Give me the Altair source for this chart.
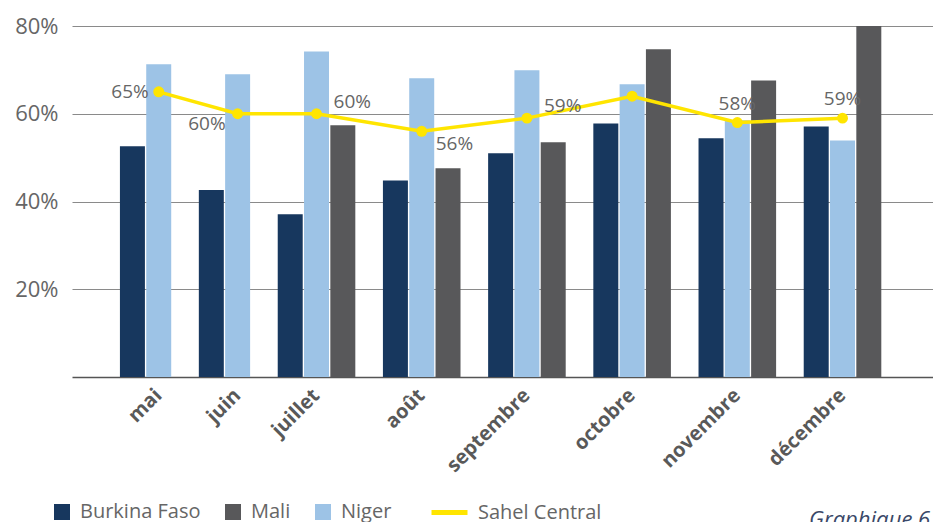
import altair as alt
import pandas as pd

# Monthly shares per country (fractions); None = no data that month
months = ["mai", "juin", "juillet", "août", "septembre", "octobre", "novembre", "décembre"]
burkina = [0.526, 0.426, 0.371, 0.448, 0.510, 0.578, 0.544, 0.571]
niger = [0.713, 0.690, 0.742, 0.681, 0.699, 0.667, 0.585, 0.539]
mali = [None, None, 0.574, 0.476, 0.535, 0.747, 0.676, 0.800]
sahel = [0.65, 0.60, 0.60, 0.56, 0.59, 0.64, 0.58, 0.59]
sahel_labelled = ["mai", "juin", "juillet", "août", "septembre", "novembre", "décembre"]

countries = ["Burkina Faso", "Mali", "Niger"]
bar_order = ["Burkina Faso", "Niger", "Mali"]
colors = ["#17375E", "#58585A", "#9DC3E6"]
yellow = "#FFE500"
FONT = "Open Sans"

series = {"Burkina Faso": burkina, "Niger": niger, "Mali": mali}

# One band slot per bar, with an empty spacer slot between months
# and one at each end of the axis
slots, bar_rows = ["_start"], []
for i, m in enumerate(months):
    if i > 0:
        slots.append(f"_gap{i}")
    for c in bar_order:
        v = series[c][i]
        if v is None:
            continue
        key = f"{m}/{c}"
        slots.append(key)
        bar_rows.append({"slot": key, "month": m, "country": c, "value": v})
slots.append("_end")
bars_df = pd.DataFrame(bar_rows)

line_df = pd.DataFrame({
    "slot": [f"{m}/Niger" for m in months],
    "month": months,
    "value": sahel,
    "serie": "Sahel Central",
})

x_scale = alt.Scale(domain=slots, paddingInner=0.05, paddingOuter=0.894, align=0.46)
x_axis = alt.Axis(
    title=None, ticks=False, grid=False, domainColor="#555555", domainWidth=1.6,
    labelExpr="indexof(datum.value, '/Niger') > 0 ? split(datum.value, '/')[0] : ''",
    labelAngle=-45, labelAlign="right", labelBaseline="middle",
    labelFont=FONT, labelFontSize=20, labelFontWeight="bold", labelColor="#595959",
    labelPadding=15, labelOverlap=False,
)
y_scale = alt.Scale(domain=[0, 0.8], nice=False)
y_axis = alt.Axis(
    title=None, values=[0.2, 0.4, 0.6, 0.8], format=".0%", ticks=False, domain=False,
    labelFont=FONT, labelFontSize=22, labelColor="#666666", labelPadding=14,
    gridColor="#8a8a8a", gridWidth=1.2,
)

bars = alt.Chart(bars_df).mark_bar().encode(
    x=alt.X("slot:N", scale=x_scale, axis=x_axis),
    y=alt.Y("value:Q", scale=y_scale, axis=y_axis),
    color=alt.Color(
        "country:N",
        scale=alt.Scale(domain=countries, range=colors),
        legend=alt.Legend(
            title=None, orient="none", legendX=-20, legendY=476, direction="horizontal",
            symbolType="square", symbolSize=256, symbolStrokeWidth=0,
            labelFont=FONT, labelFontSize=20, labelColor="#666666",
            labelOffset=8, columnPadding=22,
        ),
    ),
)

line = alt.Chart(line_df).mark_line(strokeWidth=3.5).encode(
    x=alt.X("slot:N", scale=x_scale),
    y=alt.Y("value:Q", scale=y_scale),
    stroke=alt.Stroke(
        "serie:N",
        scale=alt.Scale(domain=["Sahel Central"], range=[yellow]),
        legend=alt.Legend(
            title=None, orient="none", legendX=357, legendY=466,
            symbolType="stroke", symbolSize=1296, symbolStrokeWidth=5,
            labelFont=FONT, labelFontSize=20, labelColor="#666666", labelOffset=8,
        ),
    ),
)

points = alt.Chart(line_df).mark_point(filled=True, size=120, color=yellow, opacity=1).encode(
    x=alt.X("slot:N", scale=x_scale),
    y=alt.Y("value:Q", scale=y_scale),
)

def value_labels(which, **kw):
    return alt.Chart(line_df).transform_filter(
        alt.FieldOneOfPredicate(field="month", oneOf=which)
    ).mark_text(font=FONT, fontSize=19, color="#666666", **kw).encode(
        x=alt.X("slot:N", scale=x_scale),
        y=alt.Y("value:Q", scale=y_scale),
        text=alt.Text("value:Q", format=".0%"),
    )

labelled = [m for m in months if m in sahel_labelled]
labels = [
    value_labels([m for m in labelled if m == "mai"], align="right", dx=-10, dy=0),
    value_labels([m for m in labelled if m == "juin"], align="right", dx=-12, dy=10),
    value_labels([m for m in labelled if m in ("juillet", "septembre")], align="left", dx=17, dy=-12),
    value_labels([m for m in labelled if m == "août"], align="left", dx=14, dy=13),
    value_labels([m for m in labelled if m in ("novembre", "décembre")], align="center", dx=0, dy=-19),
]

caption = alt.Chart(pd.DataFrame({"t": ["Graphique 6"]})).mark_text(
    font=FONT, fontSize=22, fontStyle="italic", color="#3a4868", align="left", baseline="middle"
).encode(text="t:N", x=alt.value(737), y=alt.value(494))

chart = alt.layer(bars, line, points, *labels, caption).properties(
    width=861, height=351,
    autosize=alt.AutoSizeParams(type="none"),
    padding={"left": 72, "top": 26, "right": 0, "bottom": 145},
).configure_view(stroke=None).resolve_scale(color="independent")

chart.save("out.html", embed_options={"renderer": "svg", "actions": False})
